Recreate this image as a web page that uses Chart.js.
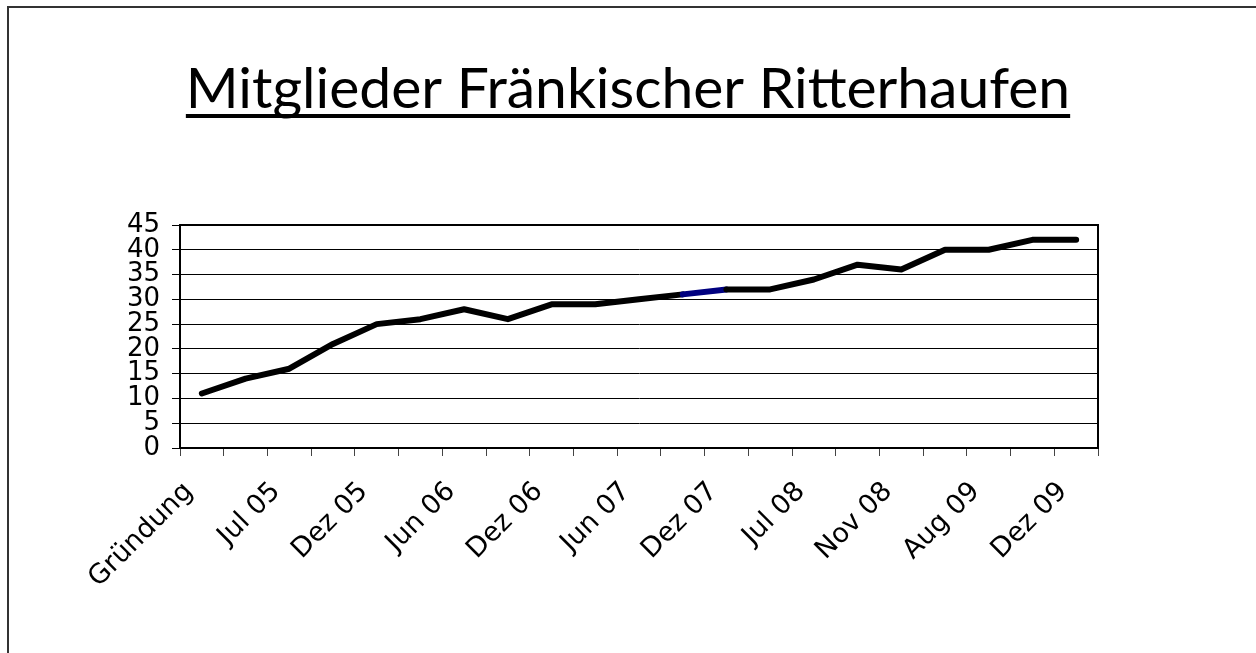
<!DOCTYPE html>
<html>
<head>
<meta charset="utf-8">
<script src="https://cdn.jsdelivr.net/npm/chart.js@4"></script>
<style>
  html, body { margin: 0; padding: 0; background: #fff; }
  #wrap { width: 1256px; height: 653px; position: relative; }
</style>
</head>
<body>
<div id="wrap"><canvas id="mitglieder"></canvas></div>
<script>
// categories (only every other label is printed in the original)
const categories = ['Gründung', '', 'Jul 05', '', 'Dez 05', '', 'Jun 06', '', 'Dez 06', '', 'Jun 07',
                    '', 'Dez 07', '', 'Jul 08', '', 'Nov 08', '', 'Aug 09', '', 'Dez 09'];
// member count per date
const members = [11, 14, 16, 21, 25, 26, 28, 26, 29, 29, 30, 31, 32, 32, 34, 37, 36, 40, 40, 42, 42];
const yTicks = [0, 5, 10, 15, 20, 25, 30, 35, 40, 45];

const titleText = 'Mitglieder Fränkischer Ritterhaufen';
const titleFont = { family: 'Lato', size: 57, weight: 'normal', lineHeight: 1.2 };
const titlePadTop = 55;

// frame round the picture, plot border and underline for the title
const decorations = {
    id: 'decorations',
    afterDraw(chart) {
        const ctx = chart.ctx;
        const area = chart.chartArea;
        ctx.save();
        // outer frame
        ctx.strokeStyle = '#333';
        ctx.lineWidth = 2;
        ctx.strokeRect(8, 7, 1400, 800);
        // plot border top/right
        ctx.strokeStyle = '#000';
        ctx.lineWidth = 2;
        ctx.beginPath();
        ctx.moveTo(area.left, area.top);
        ctx.lineTo(area.right, area.top);
        ctx.lineTo(area.right, area.bottom);
        ctx.stroke();
        // underline of the title
        const tb = chart.titleBlock;
        if (tb) {
            ctx.font = titleFont.weight + ' ' + titleFont.size + 'px ' + titleFont.family;
            const w = ctx.measureText(titleText).width;
            const cx = (tb.left + tb.right) / 2;
            const y = tb.top + titlePadTop + titleFont.size * titleFont.lineHeight / 2 + titleFont.size * 0.47;
            ctx.lineWidth = 4;
            ctx.beginPath();
            ctx.moveTo(cx - w / 2, y);
            ctx.lineTo(cx + w / 2, y);
            ctx.stroke();
        }
        ctx.restore();
    }
};

const config = {
    type: 'line',
    data: {
        labels: categories,
        datasets: [{
            label: 'Mitglieder',
            data: members,
            borderColor: '#000',
            borderWidth: 6,
            borderCapStyle: 'round',
            borderJoinStyle: 'round',
            pointRadius: 0,
            tension: 0,
            segment: {
                // one segment is drawn in navy in the original
                borderColor: (c) => c.p0DataIndex === 11 ? '#000080' : '#000'
            }
        }]
    },
    options: {
        responsive: true,
        maintainAspectRatio: false,
        animation: false,
        layout: { padding: { left: 38, right: 38, top: 0, bottom: 0 } },
        plugins: {
            legend: { display: false },
            tooltip: { enabled: false },
            title: {
                display: true,
                text: titleText,
                color: '#000',
                font: titleFont,
                padding: { top: titlePadTop, bottom: 225 - titlePadTop - titleFont.size * titleFont.lineHeight }
            }
        },
        scales: {
            x: {
                offset: true,
                afterFit: (scale) => { scale.height = 205; },
                grid: {
                    offset: true,
                    drawOnChartArea: false,
                    tickLength: 8,
                    color: '#444',
                    lineWidth: 1
                },
                border: { display: true, color: '#000', width: 2 },
                ticks: {
                    autoSkip: false,
                    minRotation: 45,
                    maxRotation: 45,
                    padding: 20,
                    labelOffset: -13,
                    color: '#000',
                    font: { family: 'DejaVu Sans', size: 27 }
                }
            },
            y: {
                min: 0,
                max: 45,
                afterFit: (scale) => { scale.width = 142; },
                afterBuildTicks: (scale) => { scale.ticks = yTicks.map(v => ({ value: v })); },
                grid: {
                    color: '#000',
                    lineWidth: 1,
                    tickLength: 8
                },
                border: { display: true, color: '#000', width: 2 },
                ticks: {
                    autoSkip: false,
                    padding: 12,
                    color: '#000',
                    font: { family: 'DejaVu Sans', size: 26, lineHeight: 1 }
                }
            },
            // empty right-hand axis, only keeps the plot area where it is in the original
            yRight: {
                position: 'right',
                min: 0,
                max: 45,
                afterFit: (scale) => { scale.width = 120; },
                grid: { display: false },
                border: { display: false },
                ticks: { display: false }
            }
        }
    },
    plugins: [decorations]
};

new Chart(document.getElementById('mitglieder'), config);
</script>
</body>
</html>
